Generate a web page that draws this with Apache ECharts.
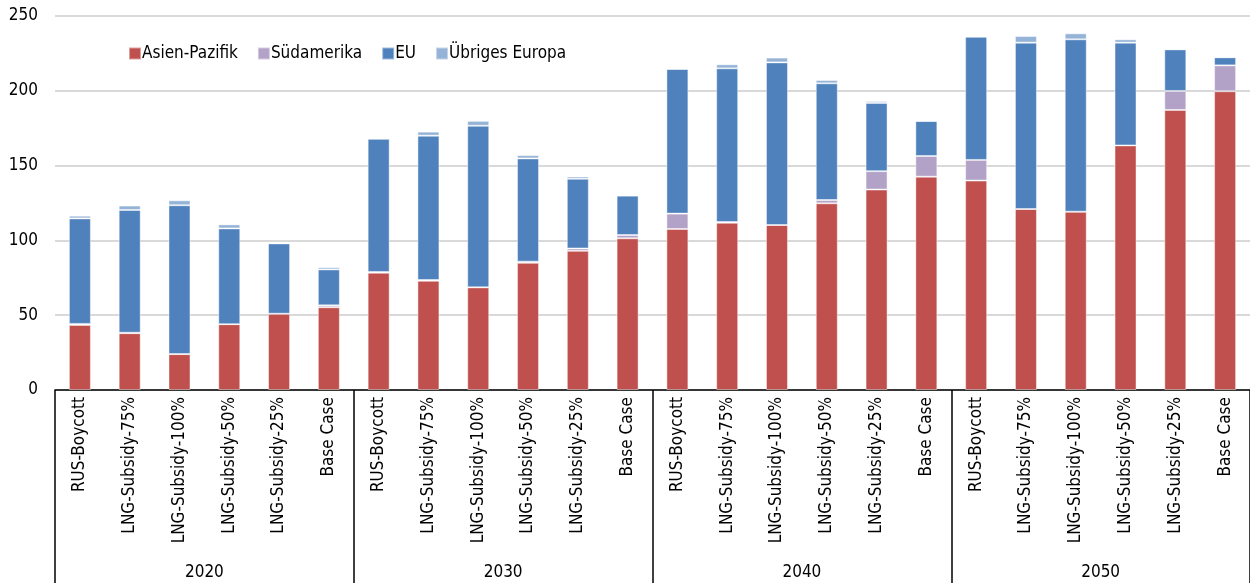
<!DOCTYPE html>
<html><head><meta charset="utf-8">
<script src="https://cdn.jsdelivr.net/npm/echarts@6/dist/echarts.min.js"></script>
<style>html,body{margin:0;padding:0;background:#fff}#c{width:1250px;height:583px}</style>
</head><body><div id="c"></div>
<script>
const years = ['2020','2030','2040','2050'];
const scenarios = ['RUS-Boycott','LNG-Subsidy-75%','LNG-Subsidy-100%','LNG-Subsidy-50%','LNG-Subsidy-25%','Base Case'];
const yTicks = [0,50,100,150,200,250];
const asien = [43.5,38,24,44,51,55.3, 78.4,73,68.6,85,93,101.4, 107.6,111.8,110.3,124.8,134,142.6, 140,121,119.2,163.5,187.2,199.7];
const suedamerika = [0.7,0.3,0,0,0,1.3, 0.5,0.5,0,0.8,1.6,2.2, 10.3,0.5,0,2.2,12.3,13.8, 13.8,0,0,0,12.7,17.3];
const eu = [70.5,82,99.5,64,47,24, 89,96.5,108,69,46.6,26.3, 96.7,102.7,108.7,78,45.6,23.4, 82.4,111.2,115.2,68.7,27.8,5.4];
const uebrigesEuropa = [1.8,3,3.3,2.7,0.3,1.5, 0.3,2.7,3.3,2.2,1.5,0.3, 0.2,2.7,3.2,2.2,1.2,0, 0,4.4,4,2.2,0,0];

const cats = [];
years.forEach(y => scenarios.forEach(s => cats.push(s)));
const FONT = '"Liberation Sans Narrow","DejaVu Sans Condensed","Open Sans",sans-serif';
const border = {borderColor:'rgba(255,255,255,0.45)', borderWidth:1};
function ser(name, data, color){
  return {name, type:'bar', stack:'a', data, barWidth:22, itemStyle:Object.assign({color}, border)};
}
const chart = echarts.init(document.getElementById('c'), null, {renderer:'canvas'});
chart.setOption({
  animation:false,
  textStyle:{fontFamily:FONT},
  grid:{left:55, width:1200, top:16, bottom:193, containLabel:false},
  legend:{left:123, top:40, itemWidth:12, itemHeight:12, itemGap:19, icon:'rect',
    textStyle:{fontFamily:FONT, fontSize:17, color:'#000', padding:[0,0,0,-4]},
    data:['Asien-Pazifik','Südamerika','EU','Übriges Europa']},
  xAxis:[
    {type:'category', data:cats, position:'bottom',
     axisLine:{lineStyle:{color:'#000', width:1.5}},
     axisTick:{show:false},
     axisLabel:{rotate:90, interval:0, margin:7, fontFamily:FONT, fontSize:17, color:'#000'}},
    {type:'category', data:years, position:'bottom',
     axisLine:{show:false},
     axisTick:{show:true, length:200, lineStyle:{color:'#000', width:1.5}},
     axisLabel:{interval:0, margin:174, fontFamily:FONT, fontSize:17, color:'#000'}}
  ],
  yAxis:{type:'value', min:yTicks[0], max:yTicks[yTicks.length-1], interval:50,
    axisLine:{show:false}, axisTick:{show:false},
    axisLabel:{fontFamily:FONT, fontSize:17, color:'#000', margin:17},
    splitLine:{lineStyle:{color:'#d9d9d9', width:2}}},
  series:[
    ser('Asien-Pazifik', asien, '#C0504D'),
    ser('Südamerika', suedamerika, '#B3A2C7'),
    ser('EU', eu, '#4F81BD'),
    ser('Übriges Europa', uebrigesEuropa, '#95B3D7')
  ]
});
</script></body></html>
